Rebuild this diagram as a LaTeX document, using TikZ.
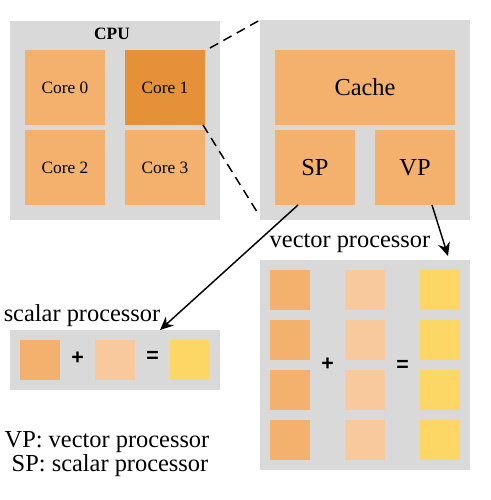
\documentclass[tikz,border=0pt]{standalone}
\usepackage{fontspec}
\setmainfont{Liberation Serif}
\newfontfamily\symfont{Liberation Sans}
\usetikzlibrary{arrows.meta}
\definecolor{bggray}{HTML}{D9D9D9}
\definecolor{corecol}{HTML}{F4B16D}
\definecolor{corehi}{HTML}{E59138}
\definecolor{lightcol}{HTML}{F8C99C}
\definecolor{yelcol}{HTML}{FDD766}
\tikzset{
  panel/.style={fill=bggray, draw=none},
  lbl/.style={font=\fontsize{13}{15}\selectfont},
  big/.style={font=\fontsize{18.3}{21}\selectfont},
  op/.style={font=\symfont\bfseries\fontsize{16}{18}\selectfont, inner sep=0pt},
  arr/.style={-{Stealth[length=10pt,width=9pt]}, line width=1.1pt},
  zoomline/.style={dash pattern=on 7pt off 4.5pt, line width=1.1pt}
}
\begin{document}
\begin{tikzpicture}[x=0.75pt,y=-0.75pt]
\useasboundingbox (0,0) rectangle (490,500);
% CPU panel
\fill[panel] (10,21) rectangle (220,220);
\node[font=\bfseries\fontsize{13}{15}\selectfont] (cpu) at (112,34) {CPU};
\fill[corecol] (25,50) rectangle (105,125);
\node[lbl] (c0) at (65,87.5) {Core 0};
\fill[corehi] (125,50) rectangle (205,125);
\node[lbl] (c1) at (165,87.5) {Core 1};
\fill[corecol] (25,130) rectangle (105,205);
\node[lbl] (c2) at (65,167.5) {Core 2};
\fill[corecol] (125,130) rectangle (205,205);
\node[lbl] (c3) at (165,167.5) {Core 3};
\coordinate (c1tr) at (210,48);
\coordinate (c1br) at (203,125);
% Core detail panel
\fill[panel] (260,20) rectangle (470,220);
\coordinate (dtl) at (260,20);
\coordinate (dbl) at (259,215);
\fill[corecol] (275,50) rectangle (455,125);
\node[big] (cache) at (365,87.5) {Cache};
\fill[corecol] (275,130) rectangle (355,205);
\node[big] (sp) at (315,167.5) {SP};
\fill[corecol] (375,130) rectangle (455,205);
\node[big] (vp) at (415,167.5) {VP};
\coordinate (spout) at (298,205);
\coordinate (vpout) at (432,205);
\draw[zoomline] (c1tr) -- (dtl);
\draw[zoomline] (c1br) -- (dbl);
% scalar processor
\node[big] (stitle) at (82,316) {scalar processor};
\fill[panel] (10,330) rectangle (220,390);
\coordinate (sin) at (160,330);
\fill[corecol] (20,340) rectangle (60,380);
\fill[lightcol] (95,340) rectangle (135,380);
\fill[yelcol] (170,340) rectangle (210,380);
\node[op] (splus) at (77.5,358) {+};
\node[op] (seq) at (152.5,357) {=};
% vector processor
\node[big] (vtitle) at (350,243) {vector processor};
\fill[panel] (260,260) rectangle (470,470);
\coordinate (vin) at (448,256);
\foreach \y in {270,320,370,420}{
  \fill[corecol] (270,\y) rectangle (310,\y+40);
  \fill[lightcol] (345,\y) rectangle (385,\y+40);
  \fill[yelcol] (420,\y) rectangle (460,\y+40);
}
\node[op] (vplus) at (327.5,364) {+};
\node[op] (veq) at (402.5,366) {=};
% arrows
\draw[arr] (spout) -- (sin);
\draw[arr] (vpout) -- (vin);
% legend
\node[big] (leg1) at (107,442) {VP: vector processor};
\node[big] (leg2) at (110,466) {SP: scalar processor};
\end{tikzpicture}
\end{document}
